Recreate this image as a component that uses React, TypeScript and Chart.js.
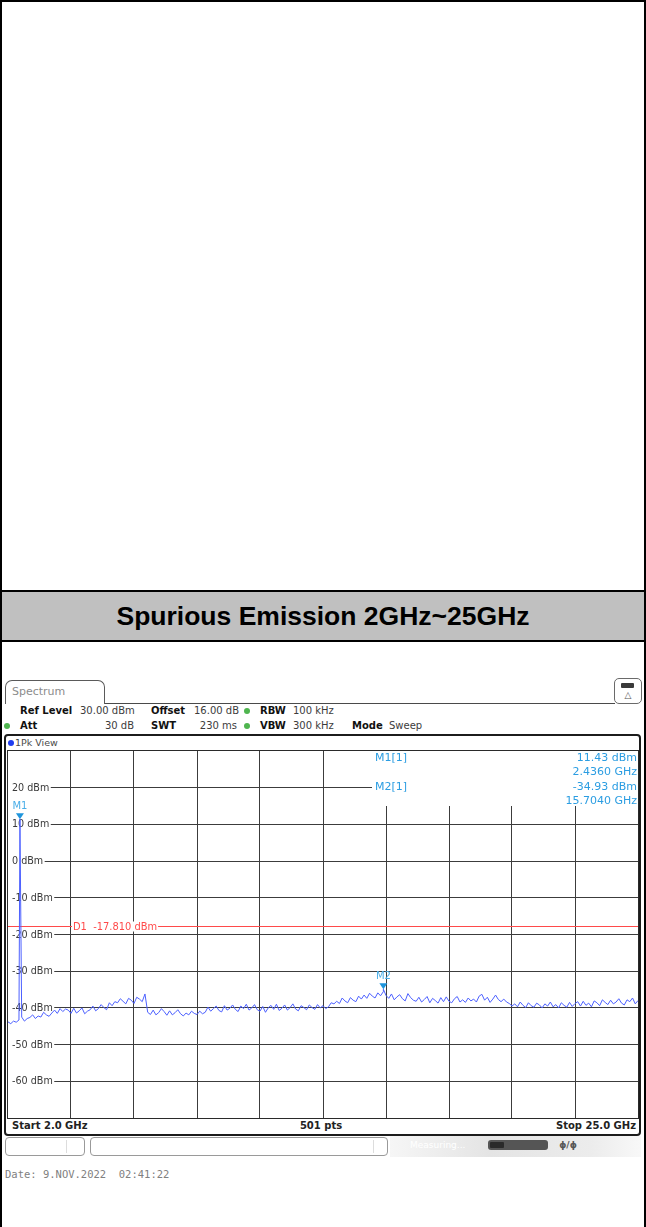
import React, { useEffect, useRef } from "react";
import { Chart, registerables } from "chart.js";

Chart.register(...registerables);

// ---- data ----
const startGHz = 2.0;
const stopGHz = 25.0;
const stepGHz = 0.1;
const refLevelDbm = 30;
const bottomLevelDbm = -70;
// trace samples every 0.1 GHz from 2.0 to 25.0 GHz (dBm)
const traceDbm = [
  -43.8, -44.3, -43.6, -43.9, -43.3, -42.5, -43.6, -42.9, -42.6, -41.9,
  -42.9, -42.2, -42.5, -41.2, -41.9, -42.3, -41.4, -40.6, -41.5, -40.2,
  -41.0, -40.3, -40.6, -41.5, -40.1, -41.4, -40.8, -40.0, -41.6, -40.9,
  -40.5, -39.5, -40.8, -40.2, -39.1, -39.9, -40.5, -38.6, -39.4, -38.3,
  -38.6, -37.5, -38.2, -38.9, -37.4, -37.9, -38.8, -37.1, -37.6, -38.3,
  -36.2, -41.2, -41.8, -40.6, -41.9, -41.3, -40.2, -41.0, -42.0, -40.8,
  -41.9, -41.3, -40.5, -41.6, -42.2, -41.4, -41.9, -40.9, -41.5, -41.8,
  -40.9, -41.6, -41.2, -39.8, -40.9, -40.2, -39.5, -40.7, -41.1, -39.4,
  -40.6, -40.1, -39.2, -40.4, -41.0, -39.5, -40.2, -39.0, -40.6, -40.0,
  -39.1, -40.5, -40.9, -39.6, -41.2, -40.0, -39.3, -40.4, -39.0, -40.7,
  -40.1, -39.2, -40.6, -39.9, -38.9, -40.3, -40.8, -39.4, -39.9, -40.5,
  -39.2, -39.9, -40.4, -39.1, -40.0, -39.4, -40.2, -39.7, -38.6, -38.9,
  -38.2, -38.8, -37.3, -38.1, -38.6, -37.2, -37.9, -38.3, -36.8, -37.6,
  -36.5, -37.4, -36.0, -36.8, -37.3, -35.9, -36.7, -35.6, -36.6, -37.4,
  -36.2, -37.8, -37.0, -36.4, -37.5, -38.1, -36.1, -37.2, -37.9, -38.2,
  -37.1, -38.4, -37.7, -36.9, -38.6, -37.4, -38.0, -38.7, -37.2, -38.3,
  -37.0, -38.2, -38.6, -37.5, -36.9, -38.4, -37.8, -38.5, -37.3, -38.1,
  -37.6, -38.4, -36.8, -36.3, -37.9, -37.1, -38.5, -37.6, -36.5, -37.7,
  -38.3, -37.6, -38.4, -38.8, -39.5, -38.9, -39.7, -38.4, -39.3, -39.9,
  -38.6, -39.4, -39.8, -38.7, -39.2, -40.0, -38.9, -39.5, -38.4, -39.7,
  -39.1, -40.0, -38.6, -39.3, -39.8, -38.5, -39.6, -38.8, -38.3, -39.5,
  -38.2, -39.3, -38.7, -39.7, -38.1, -38.6, -39.4, -37.8, -38.5, -39.1,
  -37.9, -38.9, -38.4, -37.5, -38.7, -39.2, -37.8, -38.3, -37.3, -38.9,
  -38.0,
];
const xGridGHz = [4.3, 6.6, 8.9, 11.2, 13.5, 15.8, 18.1, 20.4, 22.7];
const yTicksDbm = [20, 10, 0, -10, -20, -30, -40, -50, -60];
const markerNames = ["M1", "M2"];
const markerGHz = [2.436, 15.704];
const markerDbm = [11.43, -34.93];
const d1Dbm = -17.81;
const sweepPoints = 501;

const FONT = "'DejaVu Sans', Verdana, sans-serif";
const MARKER_BLUE = "#2b9de2";

function buildPoints() {
  const pts: { x: number; y: number }[] = traceDbm.map((v, i) => ({
    x: +(startGHz + i * stepGHz).toFixed(3),
    y: v,
  }));
  markerGHz.forEach((f, i) => pts.push({ x: f, y: markerDbm[i] }));
  pts.sort((a, b) => a.x - b.x);
  return pts;
}

const overlayPlugin = {
  id: "saOverlay",
  beforeDatasetsDraw(chart: any) {
    const ctx = chart.ctx as CanvasRenderingContext2D;
    const { left, right, top } = chart.chartArea;
    const xs = chart.scales.x;
    const ys = chart.scales.y;
    ctx.save();
    // marker table background (hides grid)
    ctx.fillStyle = "#ffffff";
    ctx.fillRect(left + 364, top, right - left - 364, 55);
    // y labels with backdrop
    ctx.font = `9.6px ${FONT}`;
    ctx.textBaseline = "middle";
    ctx.textAlign = "left";
    yTicksDbm.forEach((v) => {
      const y = ys.getPixelForValue(v);
      const t = `${v} dBm`;
      const w = ctx.measureText(t).width;
      ctx.fillStyle = "#ffffff";
      ctx.fillRect(left, y - 5, 4 + w + 1.5, 10);
      ctx.fillStyle = "#3a3a3a";
      ctx.fillText(t, left + 4, y + 0.5);
    });
    // D1 display line
    const yd = Math.round(ys.getPixelForValue(d1Dbm)) + 0.5;
    ctx.strokeStyle = "#ff4a4a";
    ctx.lineWidth = 1;
    ctx.beginPath();
    ctx.moveTo(left, yd);
    ctx.lineTo(right, yd);
    ctx.stroke();
    ctx.font = `9.9px ${FONT}`;
    const dt = `D1  ${d1Dbm.toFixed(3)} dBm`;
    const dx = xs.getPixelForValue(xGridGHz[0]) + 2;
    const dw = ctx.measureText(dt).width;
    ctx.fillStyle = "#ffffff";
    ctx.fillRect(dx - 1, yd - 5, dw + 2, 10);
    ctx.fillStyle = "#ff4a4a";
    ctx.fillText(dt, dx, yd + 0.5);
    ctx.restore();
  },
  afterDatasetsDraw(chart: any) {
    const ctx = chart.ctx as CanvasRenderingContext2D;
    const { right, top } = chart.chartArea;
    const xs = chart.scales.x;
    const ys = chart.scales.y;
    ctx.save();
    // marker symbols
    markerNames.forEach((n, i) => {
      const px = xs.getPixelForValue(markerGHz[i]);
      const py = ys.getPixelForValue(markerDbm[i]);
      ctx.fillStyle = "#1e95dc";
      ctx.beginPath();
      ctx.moveTo(px - 4, py - 6);
      ctx.lineTo(px + 4, py - 6);
      ctx.lineTo(px, py);
      ctx.closePath();
      ctx.fill();
      ctx.font = `10px ${FONT}`;
      ctx.textAlign = "center";
      ctx.textBaseline = "middle";
      ctx.fillStyle = "#4aaee8";
      ctx.fillText(n, px, py - 13);
    });
    // marker table
    ctx.font = `11px ${FONT}`;
    ctx.textBaseline = "middle";
    ctx.fillStyle = MARKER_BLUE;
    const rowY = [7, 21, 36, 50];
    markerNames.forEach((n, i) => {
      const y1 = top + rowY[i * 2];
      const y2 = top + rowY[i * 2 + 1];
      ctx.textAlign = "left";
      ctx.fillText(`${n}[1]`, 367, y1);
      ctx.textAlign = "right";
      ctx.fillText(`${markerDbm[i].toFixed(2)} dBm`, right - 1, y1);
      ctx.fillText(`${markerGHz[i].toFixed(4)} GHz`, right - 1, y2);
    });
    ctx.restore();
  },
};

function SpectrumChart() {
  const ref = useRef<HTMLCanvasElement | null>(null);
  useEffect(() => {
    if (!ref.current) return;
    const gridColor = "#3c3c3c";
    const chart = new Chart(ref.current, {
      type: "line",
      data: {
        datasets: [
          {
            data: buildPoints(),
            borderColor: "rgb(76,96,255)",
            borderWidth: 1,
            pointRadius: 0,
            tension: 0,
            fill: false,
          },
        ],
      },
      options: {
        animation: false,
        responsive: false,
        events: [],
        layout: { padding: 0 },
        plugins: { legend: { display: false }, tooltip: { enabled: false } },
        scales: {
          x: {
            type: "linear",
            min: startGHz,
            max: stopGHz,
            afterBuildTicks: (s: any) => {
              s.ticks = xGridGHz.map((v) => ({ value: v }));
            },
            ticks: { display: false },
            grid: { color: gridColor, lineWidth: 1, drawTicks: false },
            border: { display: false },
          },
          y: {
            type: "linear",
            min: bottomLevelDbm,
            max: refLevelDbm,
            afterBuildTicks: (s: any) => {
              s.ticks = yTicksDbm.map((v) => ({ value: v }));
            },
            ticks: { display: false },
            grid: { color: gridColor, lineWidth: 1, drawTicks: false },
            border: { display: false },
          },
        },
      } as any,
      plugins: [overlayPlugin],
    });
    return () => chart.destroy();
  }, []);
  return (
    <canvas
      ref={ref}
      width={630}
      height={367}
      style={{ position: "absolute", left: 8, top: 751, width: 630, height: 367 }}
    />
  );
}

const abs = (l: number, t: number, extra: React.CSSProperties = {}): React.CSSProperties => ({
  position: "absolute",
  left: l,
  top: t,
  ...extra,
});

function Txt({
  x,
  cy,
  children,
  bold,
  size = 10,
  color = "#3c3c3c",
  align = "left",
  family = FONT,
}: any) {
  const style: React.CSSProperties = {
    position: "absolute",
    top: cy - 7,
    height: 14,
    lineHeight: "14px",
    fontSize: size,
    fontFamily: family,
    fontWeight: bold ? "bold" : "normal",
    color,
    whiteSpace: "pre",
  };
  if (align === "left") style.left = x;
  else if (align === "right") style.right = 646 - x;
  else {
    style.left = x - 100;
    style.width = 200;
    style.textAlign = "center";
  }
  return <div style={style}>{children}</div>;
}

function Dot({ x, y, color }: any) {
  return (
    <div
      style={abs(x - 3, y - 3, {
        width: 6,
        height: 6,
        borderRadius: 3,
        background: color,
      })}
    />
  );
}

export default function App() {
  const GREEN = "#4fb54f";
  return (
    <div
      style={{
        position: "absolute",
        left: 0,
        top: 0,
        width: 646,
        height: 1227,
        background: "#fff",
        overflow: "hidden",
        fontFamily: FONT,
      }}
    >
      {/* page borders */}
      <div style={abs(0, 0, { width: 2, height: 1227, background: "#000" })} />
      <div style={abs(644, 0, { width: 2, height: 1227, background: "#000" })} />
      <div style={abs(0, 0, { width: 646, height: 2, background: "#000" })} />

      {/* header band */}
      <div
        style={abs(0, 590, {
          width: 646,
          height: 52,
          boxSizing: "border-box",
          borderTop: "2px solid #000",
          borderBottom: "2px solid #000",
          borderLeft: "2px solid #000",
          borderRight: "2px solid #000",
          background: "#c0c0c0",
          textAlign: "center",
          lineHeight: "48px",
          fontFamily: "'Liberation Sans', Arial, sans-serif",
          fontWeight: "bold",
          fontSize: 26.5,
          color: "#000",
        })}
      >
        Spurious Emission 2GHz~25GHz
      </div>

      {/* Spectrum tab */}
      <div
        style={abs(5, 680, {
          width: 100,
          height: 24,
          boxSizing: "border-box",
          border: "1px solid #5a5a5a",
          borderBottom: "none",
          borderRadius: "7px 7px 0 0",
          background: "#fff",
        })}
      />
      <Txt x={12} cy={692} size={11} color="#8c8c8c">
        Spectrum
      </Txt>
      <div style={abs(105, 703, { width: 510, height: 1, background: "#4a4a4a" })} />
      {/* icon at right */}
      <div
        style={abs(614, 678, {
          width: 28,
          height: 26,
          boxSizing: "border-box",
          border: "1px solid #6a6a6a",
          borderRadius: 5,
          background: "#fff",
        })}
      />
      <div style={abs(621, 683, { width: 13, height: 5, background: "#3a3a3a", borderRadius: 1 })} />
      <Txt x={628} cy={695} size={9} color="#555" align="center">
        △
      </Txt>

      {/* settings rows */}
      <Txt x={20} cy={711} bold color="#111">Ref Level</Txt>
      <Txt x={80} cy={711}>30.00 dBm</Txt>
      <Txt x={151} cy={711} bold color="#111">Offset</Txt>
      <Txt x={194} cy={711}>16.00 dB</Txt>
      <Dot x={247} y={711} color={GREEN} />
      <Txt x={260} cy={711} bold color="#111">RBW</Txt>
      <Txt x={293} cy={711}>100 kHz</Txt>

      <Dot x={7} y={726} color={GREEN} />
      <Txt x={20} cy={726} bold color="#111">Att</Txt>
      <Txt x={134} cy={726} align="right">30 dB</Txt>
      <Txt x={151} cy={726} bold color="#111">SWT</Txt>
      <Txt x={237} cy={726} align="right">230 ms</Txt>
      <Dot x={247} y={726} color={GREEN} />
      <Txt x={260} cy={726} bold color="#111">VBW</Txt>
      <Txt x={293} cy={726}>300 kHz</Txt>
      <Txt x={352} cy={726} bold color="#111">Mode</Txt>
      <Txt x={389} cy={726}>Sweep</Txt>

      {/* panel frame */}
      <div
        style={abs(4, 734, {
          width: 637,
          height: 402,
          boxSizing: "border-box",
          border: "2px solid #1c1c1c",
          borderRadius: 4,
        })}
      />
      <Dot x={11} y={743} color="#1f3cf0" />
      <Txt x={15} cy={743} size={9.5} color="#4a4a4a">1Pk View</Txt>
      <div
        style={abs(7, 750, {
          width: 632,
          height: 369,
          boxSizing: "border-box",
          border: "1px solid #2a2a2a",
        })}
      />

      <SpectrumChart />

      {/* bottom axis bar */}
      <Txt x={12} cy={1126} bold color="#222">{`Start ${startGHz.toFixed(1)} GHz`}</Txt>
      <Txt x={321} cy={1126} bold color="#222" align="center">{`${sweepPoints} pts`}</Txt>
      <Txt x={636} cy={1126} bold color="#222" align="right">{`Stop ${stopGHz.toFixed(1)} GHz`}</Txt>

      {/* status bar */}
      <div
        style={abs(5, 1137, {
          width: 80,
          height: 19,
          boxSizing: "border-box",
          border: "1px solid #9a9a9a",
          borderRadius: 4,
        })}
      />
      <div style={abs(66, 1140, { width: 1, height: 13, background: "#dddddd" })} />
      <div
        style={abs(90, 1137, {
          width: 298,
          height: 19,
          boxSizing: "border-box",
          border: "1px solid #9a9a9a",
          borderRadius: 4,
        })}
      />
      <div style={abs(373, 1140, { width: 1, height: 13, background: "#dddddd" })} />
      <div
        style={abs(390, 1136, {
          width: 251,
          height: 21,
          background: "linear-gradient(to right, #f6f6f6, #e4e4e4 40%, #ececec 80%, #f8f8f8)",
        })}
      />
      <Txt x={410} cy={1145} size={9} color="#ffffff">Measuring...</Txt>
      <div style={abs(488, 1140, { width: 60, height: 10, background: "#555", borderRadius: 3 })} />
      <div style={abs(490, 1142, { width: 14, height: 6, background: "#2a2a2a", borderRadius: 1 })} />
      <Txt x={568} cy={1145} size={9} bold color="#555" align="center">ɸ/ɸ</Txt>

      {/* date */}
      <Txt
        x={5}
        cy={1174}
        size={10.5}
        color="#808080"
        family="'DejaVu Sans Mono', 'Liberation Mono', monospace"
      >
        {"Date: 9.NOV.2022  02:41:22"}
      </Txt>
    </div>
  );
}
